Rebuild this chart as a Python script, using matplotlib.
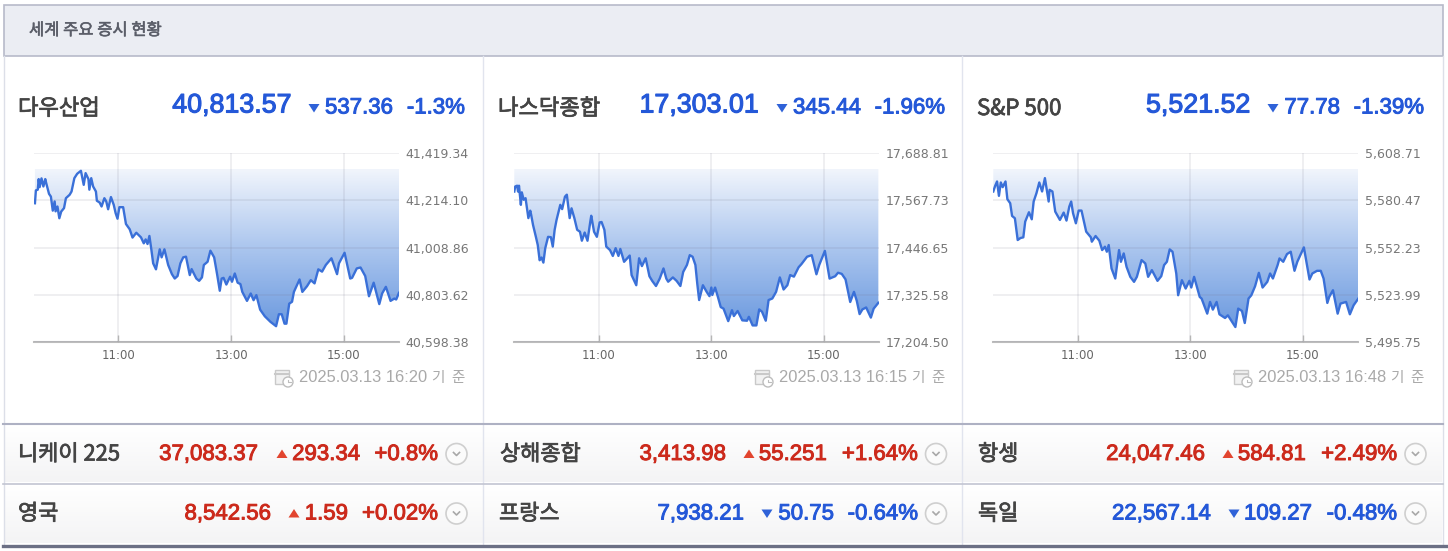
import numpy as np
import matplotlib
matplotlib.use('Agg')
import matplotlib.pyplot as plt
import matplotlib.patheffects as pe
from matplotlib.colors import LinearSegmentedColormap
from matplotlib.patches import Circle, Polygon, Rectangle

W, H = 1448, 551
KR = ['Noto Sans CJK KR', 'DejaVu Sans']
NUM = ['Liberation Sans', 'Noto Sans CJK KR']
BLUE = '#2458d8'
RED = '#cc2a1c'

# minutes after 09:30, index value
dow_t = [1, 2, 4, 5, 6, 8, 10, 12, 13, 16, 18, 20, 22, 23, 25, 27, 29, 32, 34, 38, 40, 43, 46, 50, 53, 55, 58, 59, 61, 63, 66, 67, 70, 72, 75, 77, 79, 82, 85, 87, 89, 91, 95, 98, 102, 105, 109, 114, 117, 119, 121, 123, 125, 127, 130, 134, 136, 139, 143, 147, 150, 153, 156, 159, 162, 166, 168, 173, 176, 179, 181, 185, 188, 192, 195, 198, 200, 202, 205, 209, 211, 214, 217, 220, 222, 227, 231, 234, 237, 241, 246, 252, 258, 261, 264, 267, 269, 272, 275, 277, 283, 286, 291, 295, 299, 303, 307, 311, 317, 323, 325, 331, 337, 339, 344, 348, 353, 357, 362, 368, 371, 375, 380, 384, 386, 389]
dow_v = [41201, 41257, 41260, 41306, 41271, 41309, 41274, 41306, 41289, 41242, 41230, 41169, 41209, 41166, 41187, 41136, 41165, 41180, 41223, 41238, 41252, 41310, 41329, 41342, 41281, 41332, 41306, 41260, 41310, 41274, 41252, 41212, 41204, 41187, 41223, 41209, 41175, 41228, 41194, 41158, 41134, 41184, 41184, 41111, 41088, 41052, 41073, 41053, 41027, 41044, 41024, 41059, 41002, 40940, 40914, 41001, 40966, 41001, 40933, 40893, 40874, 40885, 40940, 40966, 40969, 40889, 40915, 40874, 40864, 40879, 40933, 40947, 40995, 40966, 40896, 40821, 40874, 40877, 40848, 40882, 40860, 40896, 40856, 40850, 40816, 40777, 40809, 40780, 40802, 40739, 40710, 40686, 40667, 40719, 40719, 40678, 40678, 40765, 40773, 40816, 40870, 40816, 40841, 40867, 40853, 40914, 40904, 40933, 40962, 40893, 40940, 40986, 40874, 40877, 40918, 40922, 40885, 40797, 40856, 40763, 40809, 40838, 40777, 40787, 40783, 40812]

nasdaq_t = [0, 1, 3, 4, 5, 7, 8, 10, 12, 15, 17, 18, 20, 23, 25, 27, 29, 31, 33, 36, 39, 41, 43, 45, 49, 51, 54, 56, 59, 61, 64, 67, 70, 72, 75, 78, 81, 82, 85, 88, 91, 93, 96, 98, 102, 105, 108, 111, 113, 117, 123, 125, 130, 133, 136, 140, 144, 147, 151, 155, 159, 162, 164, 169, 173, 177, 180, 184, 187, 190, 193, 195, 197, 201, 205, 208, 210, 211, 214, 217, 220, 223, 228, 232, 234, 238, 243, 248, 250, 254, 258, 261, 264, 268, 271, 275, 279, 283, 287, 291, 294, 298, 303, 306, 312, 317, 322, 325, 331, 336, 342, 345, 349, 353, 358, 362, 365, 368, 371, 375, 380, 383, 388]
nasdaq_v = [17590, 17603, 17605, 17590, 17605, 17556, 17588, 17569, 17573, 17522, 17541, 17530, 17504, 17474, 17453, 17414, 17421, 17408, 17445, 17474, 17473, 17449, 17492, 17517, 17556, 17545, 17577, 17582, 17522, 17547, 17522, 17492, 17487, 17464, 17485, 17464, 17513, 17528, 17487, 17474, 17511, 17512, 17492, 17449, 17440, 17425, 17445, 17425, 17443, 17410, 17426, 17376, 17350, 17419, 17399, 17419, 17373, 17361, 17348, 17367, 17393, 17367, 17359, 17370, 17361, 17348, 17384, 17402, 17427, 17423, 17402, 17354, 17312, 17350, 17333, 17322, 17344, 17325, 17344, 17320, 17294, 17290, 17258, 17286, 17271, 17284, 17260, 17259, 17269, 17247, 17247, 17288, 17282, 17259, 17312, 17316, 17333, 17370, 17339, 17350, 17376, 17372, 17396, 17404, 17423, 17427, 17378, 17402, 17438, 17367, 17373, 17382, 17379, 17365, 17307, 17333, 17310, 17276, 17288, 17293, 17267, 17290, 17305]

sp_t = [0, 2, 4, 6, 8, 10, 13, 15, 18, 20, 23, 26, 29, 32, 34, 38, 41, 43, 46, 49, 52, 55, 59, 60, 63, 66, 71, 75, 78, 81, 83, 85, 88, 91, 94, 99, 104, 105, 109, 113, 116, 119, 121, 123, 126, 130, 134, 136, 139, 142, 146, 150, 153, 158, 162, 165, 169, 175, 179, 182, 185, 188, 191, 195, 197, 201, 205, 209, 211, 214, 217, 220, 222, 228, 231, 234, 238, 241, 247, 250, 258, 261, 265, 268, 272, 275, 279, 283, 287, 292, 295, 298, 303, 305, 309, 313, 317, 321, 324, 331, 337, 340, 345, 349, 352, 356, 358, 362, 367, 370, 376, 380, 384, 389]
sp_v = [5585.7, 5589.1, 5591.7, 5583.1, 5591.1, 5588.3, 5591.7, 5581.1, 5578.7, 5571.1, 5569.7, 5556.7, 5557.9, 5558.3, 5567.7, 5573.3, 5569.1, 5579.7, 5584.7, 5591.1, 5585.7, 5593.7, 5579.7, 5586.7, 5585.7, 5573.7, 5568.7, 5573.1, 5568.3, 5576.7, 5579.7, 5572.7, 5566.7, 5574.3, 5574.3, 5561.7, 5558.3, 5555.7, 5559.1, 5556.3, 5550.7, 5552.7, 5549.7, 5553.7, 5539.7, 5533.7, 5550.7, 5543.7, 5548.7, 5540.7, 5534.7, 5531.7, 5534.7, 5544.7, 5542.7, 5534.7, 5538.7, 5532.3, 5535.1, 5541.7, 5543.7, 5551.1, 5549.7, 5536.7, 5523.7, 5532.7, 5527.7, 5532.3, 5528.3, 5534.7, 5528.7, 5522.7, 5521.7, 5512.7, 5519.7, 5515.1, 5519.7, 5512.3, 5510.1, 5511.7, 5504.7, 5515.7, 5514.3, 5507.1, 5521.7, 5523.7, 5529.1, 5537.1, 5528.3, 5531.7, 5536.7, 5533.7, 5541.7, 5545.7, 5543.7, 5548.3, 5549.7, 5538.3, 5543.7, 5552.3, 5533.1, 5536.7, 5538.3, 5538.3, 5533.7, 5519.1, 5522.7, 5526.7, 5512.7, 5518.7, 5519.7, 5512.3, 5517.7, 5521.7]

time_ticks = [90, 210, 330]
time_labels = ['11:00', '13:00', '15:00']

dow_ticks = [40598.38, 40803.62, 41008.86, 41214.10, 41419.34]
nasdaq_ticks = [17204.50, 17325.58, 17446.65, 17567.73, 17688.81]
sp_ticks = [5495.75, 5523.99, 5552.23, 5580.47, 5608.71]

main_names = ['다우산업', '나스닥종합', 'S&P 500']
main_values = ['40,813.57', '17,303.01', '5,521.52']
main_changes = ['537.36', '345.44', '77.78']
main_pcts = ['-1.3%', '-1.96%', '-1.39%']
main_stamps = ['2025.03.13 16:20', '2025.03.13 16:15', '2025.03.13 16:48']

row_names = ['니케이 225', '상해종합', '항셍', '영국', '프랑스', '독일']
row_values = ['37,083.37', '3,413.98', '24,047.46', '8,542.56', '7,938.21', '22,567.14']
row_changes = ['293.34', '55.251', '584.81', '1.59', '50.75', '109.27']
row_pcts = ['+0.8%', '+1.64%', '+2.49%', '+0.02%', '-0.64%', '-0.48%']

fig = plt.figure(figsize=(W / 100, H / 100), dpi=100, facecolor='white')

# page layer in pixel coordinates
bg = fig.add_axes([0, 0, 1, 1])
bg.set_xlim(0, W)
bg.set_ylim(H, 0)
bg.axis('off')


def heavy(x, y, s, color, size, family, stroke=0.55, ha='right'):
	# the page text is a semi-bold web font, regular plus a thin stroke comes closest
	t = bg.text(x, y, s, family=family, fontsize=size, color=color, ha=ha, va='center', zorder=6)
	t.set_path_effects([pe.withStroke(linewidth=stroke, foreground=color)])
	return t


bg.add_patch(Rectangle((3.5, 5), 1439, 51, fc='#ebedf3', ec='#b7bac9', lw=1.2))
heavy(29, 30.5, '세계 주요 증시 현황', '#5a5d68', 11.9, KR, stroke=0.4, ha='left')

row_grad = np.linspace(1, 0, 32).reshape(-1, 1)
row_cmap = LinearSegmentedColormap.from_list('row', ['#f4f4f5', '#ffffff'])
for y0, y1 in [(426, 482), (485, 543)]:
	bg.imshow(row_grad, extent=(4, 1442, y1, y0), cmap=row_cmap, aspect='auto', zorder=0)
bg.set_xlim(0, W)
bg.set_ylim(H, 0)

for x in [483, 962]:
	bg.plot([x, x], [56, 544], color='#e1e4ee', lw=1, zorder=1)
bg.plot([3.5, 3.5], [56, 545], color='#dcdfe8', lw=1, zorder=1)
bg.plot([1442.5, 1442.5], [56, 545], color='#dcdfe8', lw=1, zorder=1)
bg.plot([3, 1443], [424, 424], color='#aeb1c3', lw=1.5, zorder=1)
bg.plot([3, 1443], [483.5, 483.5], color='#c2c5d2', lw=1.2, zorder=1)
bg.plot([3, 1448], [545.5, 545.5], color='#6c7085', lw=2.4, zorder=1)


def triangle(x, y, up):
	color = '#e2452f' if up else '#2f62d8'
	if up:
		pts = [(x - 5.5, y + 4), (x + 5.5, y + 4), (x, y - 4.5)]
	else:
		pts = [(x - 5.5, y - 4), (x + 5.5, y - 4), (x, y + 4.5)]
	bg.add_patch(Polygon(pts, closed=True, fc=color, ec='none', zorder=3))


def stamp_icon(x, y):
	bg.add_patch(Rectangle((x, y), 14, 14, fc='#f2f2f2', ec='#c9c9c9', lw=1, zorder=3))
	bg.plot([x, x + 14], [y + 4, y + 4], color='#c9c9c9', lw=1.5, zorder=3)
	bg.add_patch(Circle((x + 13, y + 12), 5, fc='white', ec='#bdbdbd', lw=1, zorder=4))
	bg.plot([x + 13, x + 13, x + 15.5], [y + 9.5, y + 12, y + 12], color='#bdbdbd', lw=0.8, zorder=5)


def button(x, y):
	bg.add_patch(Circle((x, y), 10.5, fc='#fbfbfb', ec='#cfcfcf', lw=1.2, zorder=3))
	bg.plot([x - 3, x, x + 3], [y - 1.5, y + 1.5, y - 1.5], color='#a8a8a8', lw=1.2, zorder=4)


def draw_chart(left, right, times, values, ticks):
	ax = fig.add_axes([left / W, 1 - 342 / H, (right - left) / W, 189 / H], facecolor='none')
	ax.set_xlim(0, 389)
	ax.set_ylim(ticks[0], ticks[-1])
	span = ticks[-1] - ticks[0]
	fill_top = ticks[-1] - span * 0.085
	fill_low = ticks[0] + span * 0.07
	cmap = LinearSegmentedColormap.from_list('fill', ['#6b99df', '#aac5ee', '#f1f5fc'])
	poly = ax.fill_between(times, values, fill_top, color='none', lw=0)
	img = ax.imshow(np.linspace(0, 1, 200).reshape(-1, 1), extent=(0, 389, fill_low, fill_top), origin='lower', cmap=cmap, aspect='auto', zorder=1)
	clip_path = poly.get_paths()[0]
	img.set_clip_path(clip_path, transform=ax.transData)
	ax.set_xlim(0, 389)
	ax.set_ylim(ticks[0], ticks[-1])
	ax.plot(times, values, color='#3a70d8', lw=1.7, zorder=4, solid_joinstyle='round')
	ax.set_xticks(time_ticks)
	ax.set_xticklabels(time_labels)
	ax.set_yticks(ticks)
	ax.set_yticklabels(['{:,.2f}'.format(t) for t in ticks])
	ax.yaxis.tick_right()
	ax.grid(True, color='#77778c', alpha=0.14, lw=1.2, zorder=2)
	ax.set_axisbelow(False)
	for s in ['left', 'right', 'top']:
		ax.spines[s].set_visible(False)
	ax.spines['bottom'].set_color('#bdbdbd')
	ax.spines['bottom'].set_linewidth(1.5)
	ax.tick_params(axis='x', direction='in', length=5, width=1, color='#b5b5b5', labelsize=8.5, labelcolor='#666666', pad=5)
	ax.tick_params(axis='y', length=0, labelsize=9, labelcolor='#777777', pad=4.5)
	return ax


series = [(dow_t, dow_v, dow_ticks), (nasdaq_t, nasdaq_v, nasdaq_ticks), (sp_t, sp_v, sp_ticks)]
chart_left = [34, 514.3, 993.3]
name_x = [18, 498, 977]
value_x = [291, 758, 1250]
tri_x = [314, 782, 1273]
change_x = [393, 861, 1340]
pct_x = [465, 945, 1424]

for i in range(3):
	draw_chart(chart_left[i], chart_left[i] + 365, *series[i])
	heavy(name_x[i], 108.5, main_names[i], '#444444', 16, KR, ha='left')
	heavy(value_x[i], 105.5, main_values[i], BLUE, 19.3, NUM, stroke=0.8)
	triangle(tri_x[i], 108, False)
	heavy(change_x[i], 108, main_changes[i], BLUE, 16, NUM, stroke=0.7)
	heavy(pct_x[i], 108, main_pcts[i], BLUE, 16, NUM, stroke=0.7)
	bg.text(pct_x[i] - 38, 378, main_stamps[i], family=NUM, fontsize=11.9, color='#a9a9a9', ha='right', va='center')
	bg.text(pct_x[i], 378, '기  준', family=KR, fontsize=10.5, color='#a9a9a9', ha='right', va='center')
	stamp_icon(pct_x[i] - 190, 370)

row_name_x = [18, 500, 978, 18, 499, 978]
row_value_x = [258, 726, 1205, 271, 744, 1211]
row_tri_x = [282, 749, 1228, 294, 767, 1234]
row_change_x = [360, 827, 1306, 348, 834, 1312]
row_pct_x = [438, 918, 1397, 438, 918, 1397]
row_btn_x = [456.5, 936, 1415.5, 456.5, 936, 1415.5]
row_y = [454.5, 454.5, 454.5, 514, 514, 514]

for i in range(6):
	up = row_pcts[i].startswith('+')
	color = RED if up else BLUE
	y = row_y[i]
	heavy(row_name_x[i], y, row_names[i], '#444444', 15.8, KR, ha='left')
	heavy(row_value_x[i], y, row_values[i], color, 16, NUM, stroke=0.7)
	triangle(row_tri_x[i], y - 0.5, up)
	heavy(row_change_x[i], y, row_changes[i], color, 16, NUM, stroke=0.7)
	heavy(row_pct_x[i], y, row_pcts[i], color, 16, NUM, stroke=0.7)
	button(row_btn_x[i], y - 0.5)

fig.savefig('out.png', dpi=100)
